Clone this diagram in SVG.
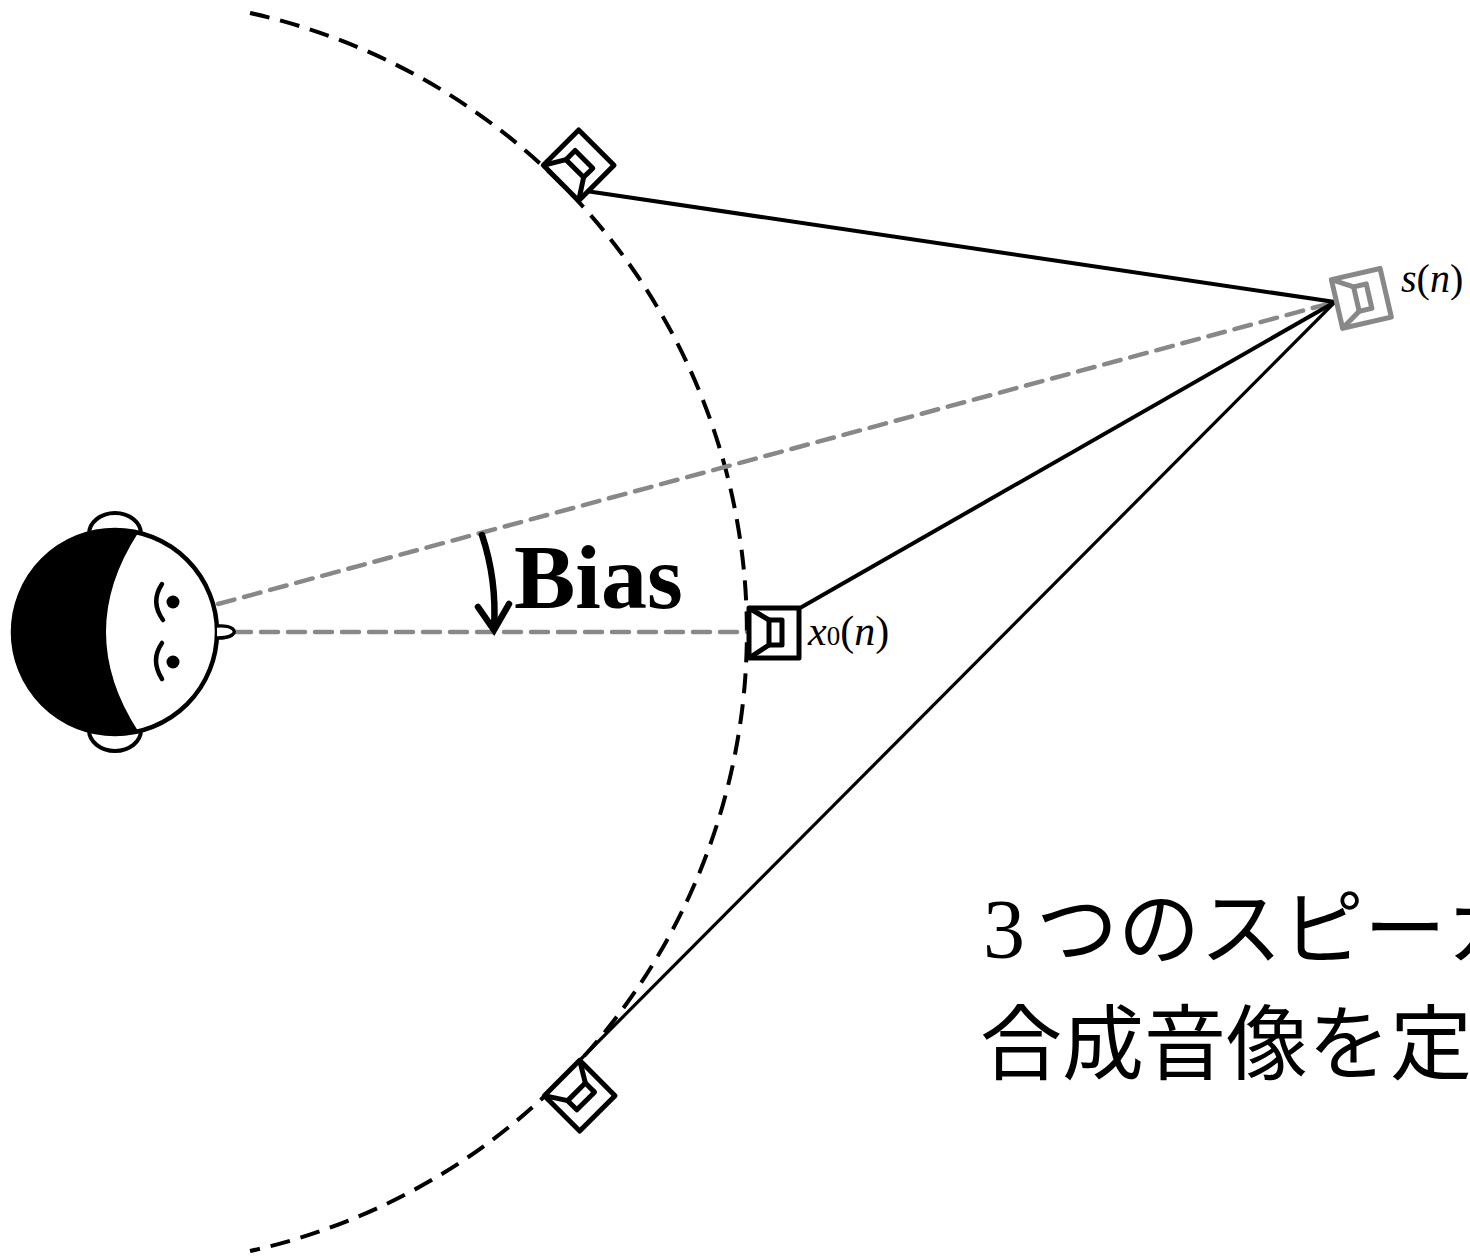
<svg xmlns="http://www.w3.org/2000/svg" width="1470" height="1256" viewBox="0 0 1470 1256">
  <style>
    .arc { fill: none; stroke: #000; stroke-width: 4; stroke-dasharray: 20 11; }
    .guide { fill: none; stroke: #888; stroke-width: 4.5; stroke-dasharray: 17 10; stroke-linecap: round; }
    .ray { fill: none; stroke: #000; stroke-width: 4; }
    .spk { fill: #fff; stroke: #000; stroke-width: 5; stroke-linejoin: round; }
    .spk-gray { fill: #fff; stroke: #888; stroke-width: 5; stroke-linejoin: round; }
    .ink { fill: none; stroke: #000; stroke-width: 4.5; stroke-linecap: round; }
    .lbl { font-family: "Liberation Serif", "Times New Roman", serif; fill: #000; }
  </style>
  <defs>
    <!-- loudspeaker, front face on the local y-axis, facing -x -->
    <g id="speaker">
      <rect x="0" y="-25" width="50" height="50"/>
      <rect x="20" y="-13" width="13" height="25"/>
      <path d="M0,-25 L20,-13 M0,25 L20,12"/>
    </g>
  </defs>

  <rect width="1470" height="1256" fill="#fff"/>

  <!-- loudspeaker circle around the listener -->
  <path class="arc" d="M250,13 A634,634 0 0 1 250,1251"/>

  <g id="connectors">
    <line class="guide" x1="218" y1="604" x2="1335" y2="302"/>
    <line class="guide" x1="234" y1="632" x2="748" y2="632"/>
    <line class="ray" x1="586" y1="191" x2="1335" y2="302"/>
    <line class="ray" x1="800" y1="608" x2="1335" y2="302"/>
    <line class="ray" x1="580" y1="1060" x2="1335" y2="302" style="stroke-width:3.2"/>
  </g>

  <g id="listener">
    <!-- ears -->
    <ellipse cx="115" cy="534" rx="26" ry="21" fill="#fff" stroke="#000" stroke-width="4"/>
    <ellipse cx="115" cy="730" rx="26" ry="21" fill="#fff" stroke="#000" stroke-width="4"/>
    <!-- head -->
    <circle cx="115" cy="632" r="102" fill="#fff" stroke="#000" stroke-width="4.5"/>
    <!-- hair -->
    <path d="M138,533 A102,102 0 1 0 138,731 Q74,632 138,533 Z" fill="#000"/>
    <!-- brows and eyes -->
    <path class="ink" d="M162,584 Q150,602 163,620"/>
    <path class="ink" d="M162,643 Q150,660 162,679"/>
    <circle cx="173" cy="602" r="6.5" fill="#000"/>
    <circle cx="173" cy="662" r="6.5" fill="#000"/>
    <!-- nose -->
    <path d="M217,626 C232,625 238,631 232,635 C228,638 222,638 217,638" fill="#fff" stroke="#000" stroke-width="3.5"/>
  </g>

  <g id="speaker-top">
    <use href="#speaker" class="spk" transform="translate(561,183) rotate(-45)"/>
  </g>
  <g id="speaker-x0">
    <use href="#speaker" class="spk" transform="translate(749,633)"/>
    <text class="lbl" x="808" y="645" font-size="42"><tspan font-style="italic">x</tspan><tspan font-size="27">0</tspan>(<tspan font-style="italic">n</tspan>)</text>
  </g>
  <g id="speaker-bottom">
    <use href="#speaker" class="spk" transform="translate(562,1078) rotate(45)"/>
  </g>
  <g id="source">
    <use href="#speaker" class="spk-gray" transform="translate(1337,304) rotate(-13)"/>
    <text class="lbl" x="1401" y="292" font-size="40"><tspan font-style="italic">s</tspan>(<tspan font-style="italic">n</tspan>)</text>
  </g>

  <g id="bias">
    <path class="ink" d="M482,535 Q497,580 494,628" style="stroke-width:6.5"/>
    <polyline class="ink" points="478,607 494,630 509,604" style="stroke-width:6.5;stroke-linejoin:miter"/>
    <text class="lbl" x="514" y="608" font-size="92" font-weight="bold">Bias</text>
  </g>

  <g id="caption" font-family="'Noto Sans CJK JP', sans-serif" font-size="82" fill="#000">
    <text x="983" y="958"><tspan font-family="'Liberation Serif', serif" font-size="84">3</tspan><tspan x="1036">つのスピーカ</tspan></text>
    <text x="980" y="1073">合成音像を定</text>
  </g>
</svg>
